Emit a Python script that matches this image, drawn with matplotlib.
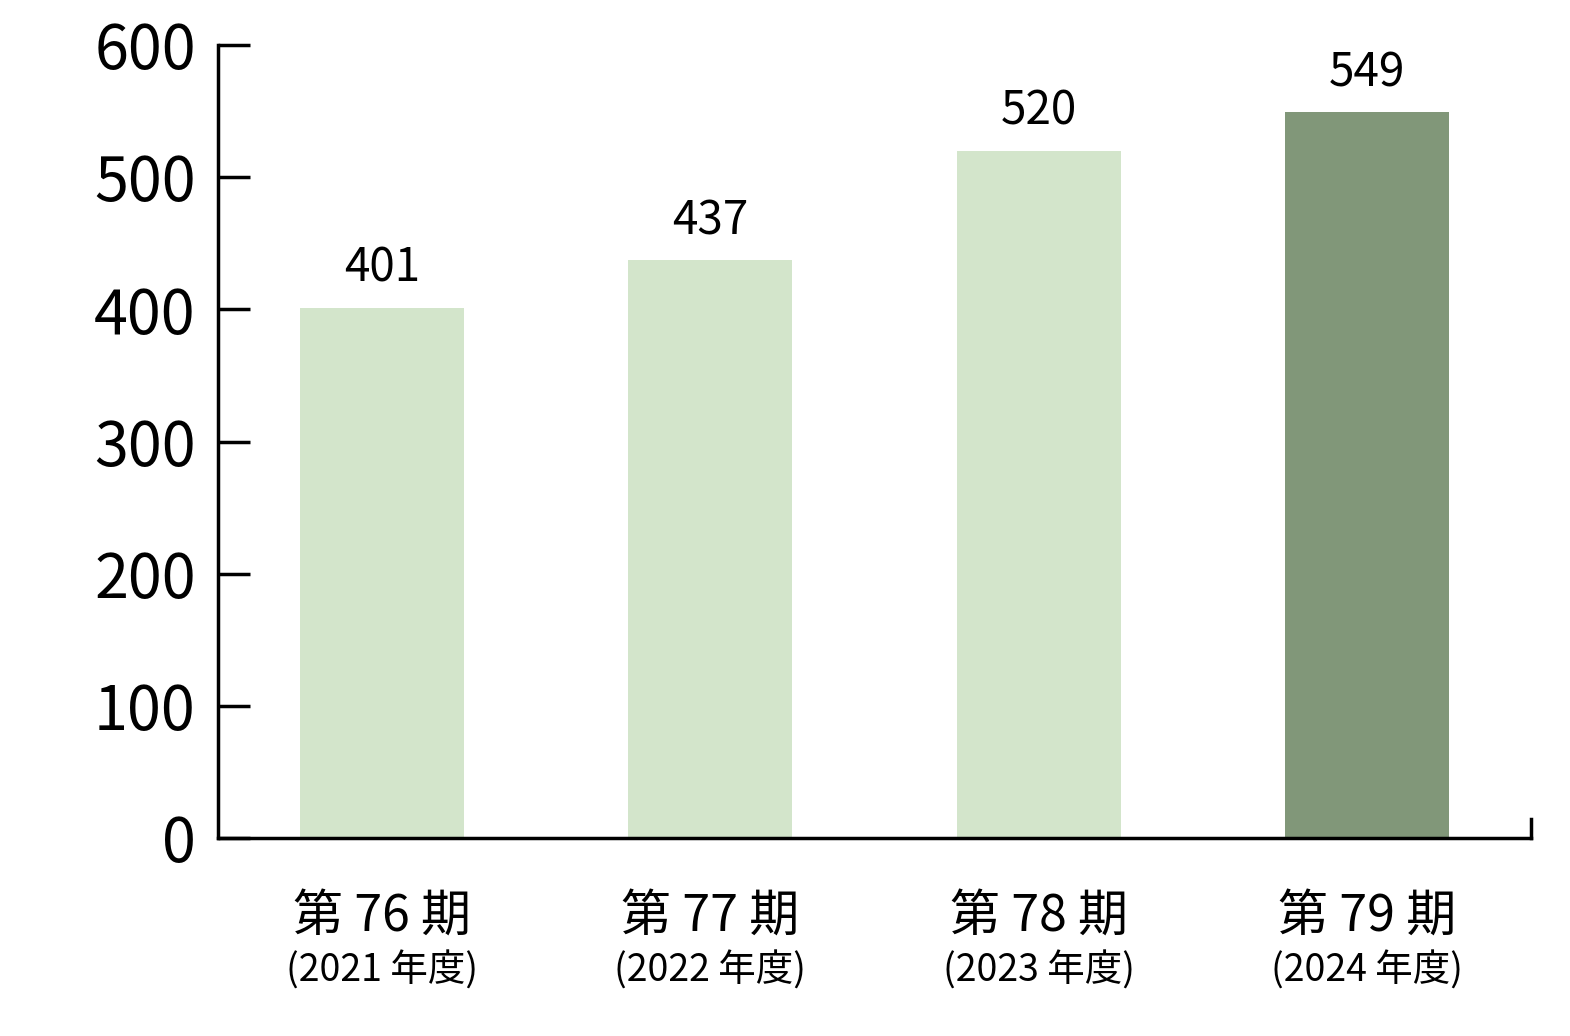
import matplotlib
matplotlib.use("Agg")
import matplotlib.pyplot as plt
import matplotlib.transforms as mtransforms

plt.rcParams['font.family'] = ['Noto Sans CJK JP', 'DejaVu Sans']

periods = ["第 76 期", "第 77 期", "第 78 期", "第 79 期"]
years = ["(2021 年度)", "(2022 年度)", "(2023 年度)", "(2024 年度)"]
values = [401, 437, 520, 549]
colors = ["#d3e5cb", "#d3e5cb", "#d3e5cb", "#819779"]
yticks = [0, 100, 200, 300, 400, 500, 600]

W, H = 1570, 1036
fig = plt.figure(figsize=(W / 100, H / 100), dpi=100)
ax = fig.add_axes([218 / W, (H - 838) / H, (1531 - 218) / W, (838 - 45) / H])

x = list(range(len(values)))
ax.bar(x, values, width=0.5, color=colors, zorder=2)

ax.set_xlim(-0.5, 3.5)
ax.set_ylim(0, 600)
ax.set_yticks(yticks)
ax.set_yticklabels([str(v) for v in yticks], fontsize=44)
ax.set_xticks([])

ax.spines['top'].set_visible(False)
for s in ['left', 'bottom', 'right']:
    ax.spines[s].set_linewidth(2.5)
ax.spines['right'].set_bounds(0, 14)
ax.tick_params(axis='y', direction='in', length=23, width=2.5, pad=16)

for xi, v in zip(x, values):
    ax.annotate(str(v), (xi, v), xytext=(0, 11), textcoords='offset points',
                ha='center', va='bottom', fontsize=33)

trans = mtransforms.blended_transform_factory(ax.transData, ax.transAxes)
for xi, p, yr in zip(x, periods, years):
    ax.annotate(p, (xi, 0), xycoords=trans, xytext=(0, -57), textcoords='offset points',
                ha='center', va='center', fontsize=36)
    ax.annotate(yr, (xi, 0), xycoords=trans, xytext=(0, -96), textcoords='offset points',
                ha='center', va='center', fontsize=27)

fig.savefig("out.png", dpi=100)
